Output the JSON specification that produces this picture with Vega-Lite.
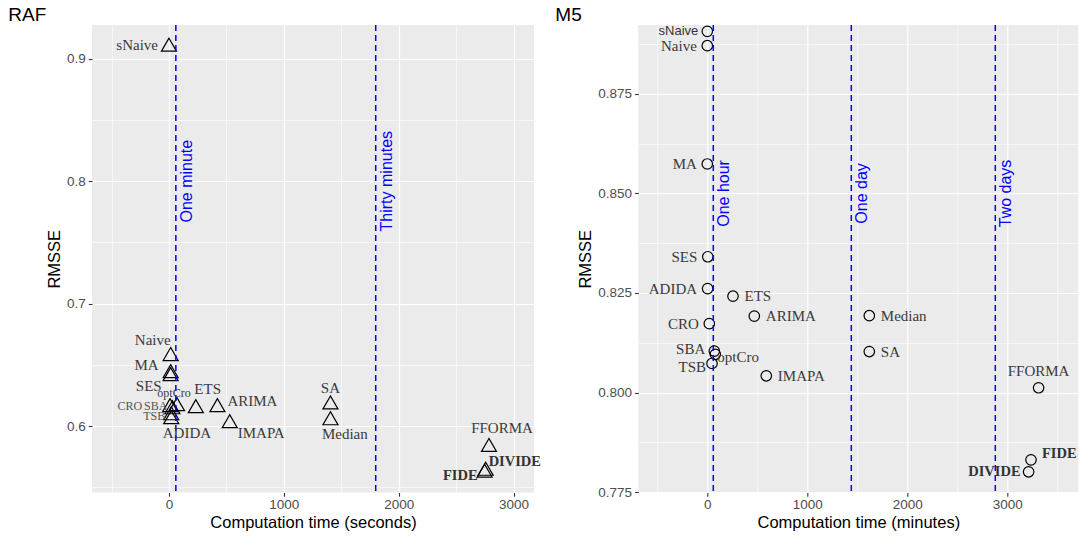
{
  "$schema": "https://vega.github.io/schema/vega-lite/v6.json",
  "padding": {"left": 8, "top": 5, "right": 0, "bottom": 0},
  "autosize": {"type": "pad"},
  "bounds": "flush",
  "spacing": 104.3,
  "datasets": {
    "raf": [
      {"name": "sNaive", "time": 0, "rmsse": 0.9115},
      {"name": "Naive", "time": 15, "rmsse": 0.6589},
      {"name": "MA", "time": 15, "rmsse": 0.645},
      {"name": "SES", "time": 15, "rmsse": 0.6425},
      {"name": "CRO", "time": 10, "rmsse": 0.6172},
      {"name": "SBA", "time": 30, "rmsse": 0.6155},
      {"name": "optCro", "time": 70, "rmsse": 0.618},
      {"name": "TSB", "time": 20, "rmsse": 0.6106},
      {"name": "ADIDA", "time": 20, "rmsse": 0.6074},
      {"name": "ETS", "time": 234, "rmsse": 0.6164},
      {"name": "ARIMA", "time": 422, "rmsse": 0.6172},
      {"name": "IMAPA", "time": 529, "rmsse": 0.6041},
      {"name": "SA", "time": 1406, "rmsse": 0.6194},
      {"name": "Median", "time": 1406, "rmsse": 0.6065},
      {"name": "FFORMA", "time": 2786, "rmsse": 0.5847},
      {"name": "DIVIDE", "time": 2757, "rmsse": 0.5653},
      {"name": "FIDE", "time": 2748, "rmsse": 0.5637}
    ],
    "m5": [
      {"name": "sNaive", "time": 0, "rmsse": 0.8907},
      {"name": "Naive", "time": 0, "rmsse": 0.8871},
      {"name": "MA", "time": 0, "rmsse": 0.8574},
      {"name": "SES", "time": 5, "rmsse": 0.8341},
      {"name": "ADIDA", "time": 3, "rmsse": 0.8261},
      {"name": "ETS", "time": 257, "rmsse": 0.8242},
      {"name": "ARIMA", "time": 470, "rmsse": 0.8192},
      {"name": "CRO", "time": 20, "rmsse": 0.8173},
      {"name": "SBA", "time": 70, "rmsse": 0.8104},
      {"name": "optCro", "time": 80, "rmsse": 0.8096},
      {"name": "TSB", "time": 47, "rmsse": 0.8073},
      {"name": "IMAPA", "time": 590, "rmsse": 0.8042},
      {"name": "Median", "time": 1620, "rmsse": 0.8193},
      {"name": "SA", "time": 1620, "rmsse": 0.8103},
      {"name": "FFORMA", "time": 3313, "rmsse": 0.8012},
      {"name": "FIDE", "time": 3237, "rmsse": 0.7831},
      {"name": "DIVIDE", "time": 3213, "rmsse": 0.7801}
    ],
    "rafLines": [
      {"time": 60, "label": "One minute"},
      {"time": 1800, "label": "Thirty minutes"}
    ],
    "m5Lines": [
      {"time": 60, "label": "One hour"},
      {"time": 1440, "label": "One day"},
      {"time": 2880, "label": "Two days"}
    ]
  },
  "hconcat": [
    {
      "width": 442,
      "height": 467.5,
      "title": {"text": "RAF", "anchor": "start", "frame": "group", "dx": -83.7, "offset": -1},
      "layer": [
        {
          "data": {"name": "raf"},
          "mark": {"type": "point", "shape": "triangle-up", "filled": false, "color": "black", "size": 225, "strokeWidth": 1.2, "opacity": 1},
          "encoding": {
            "x": {
              "field": "time", "type": "quantitative",
              "scale": {"domain": [-670, 3178], "nice": false, "zero": false},
              "axis": {
                "title": "Computation time (seconds)",
                "values": [-500, 0, 500, 1000, 1500, 2000, 2500, 3000],
                "format": "d",
                "labelExpr": "datum.value % 1000 == 0 ? datum.label : ''",
                "gridWidth": {"condition": {"test": "datum.value % 1000 == 0", "value": 1.2}, "value": 0.6},
                "tickOpacity": {"condition": {"test": "datum.value % 1000 == 0", "value": 1}, "value": 0}
              }
            },
            "y": {
              "field": "rmsse", "type": "quantitative",
              "scale": {"domain": [0.5459, 0.9275], "nice": false, "zero": false},
              "axis": {
                "title": "RMSSE",
                "values": [0.55, 0.6, 0.65, 0.7, 0.75, 0.8, 0.85, 0.9],
                "format": ".1f",
                "labelExpr": "round(datum.value*100) % 10 == 0 ? datum.label : ''",
                "gridWidth": {"condition": {"test": "round(datum.value*100) % 10 == 0", "value": 1.2}, "value": 0.6},
                "tickOpacity": {"condition": {"test": "round(datum.value*100) % 10 == 0", "value": 1}, "value": 0}
              }
            }
          }
        },
        {
          "data": {"name": "rafLines"},
          "mark": {"type": "rule", "color": "#0000FF", "strokeDash": [6, 4], "strokeWidth": 1.5},
          "encoding": {"x": {"field": "time", "type": "quantitative"}}
        },
        {
          "data": {"name": "rafLines"},
          "mark": {"type": "text", "angle": 270, "align": "center", "baseline": "top", "dy": 3, "color": "#0000FF", "font": "Liberation Sans", "fontSize": 16},
          "encoding": {
            "x": {"field": "time", "type": "quantitative"},
            "y": {"datum": 0.8, "type": "quantitative"},
            "text": {"field": "label"}
          }
        },
        {"data": {"name": "raf"}, "transform": [{"filter": {"field": "name", "oneOf": ["sNaive"]}}], "mark": {"type": "text", "align": "right", "dx": -11, "dy": 0}, "encoding": {"x": {"field": "time", "type": "quantitative"}, "y": {"field": "rmsse", "type": "quantitative"}, "text": {"field": "name"}}},
        {"data": {"name": "raf"}, "transform": [{"filter": {"field": "name", "oneOf": ["Naive"]}}], "mark": {"type": "text", "align": "right", "dx": 0, "dy": -14}, "encoding": {"x": {"field": "time", "type": "quantitative"}, "y": {"field": "rmsse", "type": "quantitative"}, "text": {"field": "name"}}},
        {"data": {"name": "raf"}, "transform": [{"filter": {"field": "name", "oneOf": ["MA"]}}], "mark": {"type": "text", "align": "right", "dx": -12, "dy": -6}, "encoding": {"x": {"field": "time", "type": "quantitative"}, "y": {"field": "rmsse", "type": "quantitative"}, "text": {"field": "name"}}},
        {"data": {"name": "raf"}, "transform": [{"filter": {"field": "name", "oneOf": ["SES"]}}], "mark": {"type": "text", "align": "right", "dx": -9, "dy": 12}, "encoding": {"x": {"field": "time", "type": "quantitative"}, "y": {"field": "rmsse", "type": "quantitative"}, "text": {"field": "name"}}},
        {"data": {"name": "raf"}, "transform": [{"filter": {"field": "name", "oneOf": ["optCro"]}}], "mark": {"type": "text", "align": "center", "dx": -3, "dy": -11, "fontSize": 12}, "encoding": {"x": {"field": "time", "type": "quantitative"}, "y": {"field": "rmsse", "type": "quantitative"}, "text": {"field": "name"}}},
        {"data": {"name": "raf"}, "transform": [{"filter": {"field": "name", "oneOf": ["CRO"]}}], "mark": {"type": "text", "align": "right", "dx": -28, "dy": 1, "fontSize": 12, "color": "#555555"}, "encoding": {"x": {"field": "time", "type": "quantitative"}, "y": {"field": "rmsse", "type": "quantitative"}, "text": {"field": "name"}}},
        {"data": {"name": "raf"}, "transform": [{"filter": {"field": "name", "oneOf": ["SBA"]}}], "mark": {"type": "text", "align": "right", "dx": -5, "dy": -1, "fontSize": 12, "color": "#555555"}, "encoding": {"x": {"field": "time", "type": "quantitative"}, "y": {"field": "rmsse", "type": "quantitative"}, "text": {"field": "name"}}},
        {"data": {"name": "raf"}, "transform": [{"filter": {"field": "name", "oneOf": ["TSB"]}}], "mark": {"type": "text", "align": "right", "dx": -6, "dy": 3, "fontSize": 12, "color": "#555555"}, "encoding": {"x": {"field": "time", "type": "quantitative"}, "y": {"field": "rmsse", "type": "quantitative"}, "text": {"field": "name"}}},
        {"data": {"name": "raf"}, "transform": [{"filter": {"field": "name", "oneOf": ["ADIDA", "Median"]}}], "mark": {"type": "text", "align": "left", "dx": -8.5, "dy": 16}, "encoding": {"x": {"field": "time", "type": "quantitative"}, "y": {"field": "rmsse", "type": "quantitative"}, "text": {"field": "name"}}},
        {"data": {"name": "raf"}, "transform": [{"filter": {"field": "name", "oneOf": ["ETS"]}}], "mark": {"type": "text", "align": "left", "dx": -1.5, "dy": -17}, "encoding": {"x": {"field": "time", "type": "quantitative"}, "y": {"field": "rmsse", "type": "quantitative"}, "text": {"field": "name"}}},
        {"data": {"name": "raf"}, "transform": [{"filter": {"field": "name", "oneOf": ["ARIMA"]}}], "mark": {"type": "text", "align": "left", "dx": 10, "dy": -4}, "encoding": {"x": {"field": "time", "type": "quantitative"}, "y": {"field": "rmsse", "type": "quantitative"}, "text": {"field": "name"}}},
        {"data": {"name": "raf"}, "transform": [{"filter": {"field": "name", "oneOf": ["IMAPA"]}}], "mark": {"type": "text", "align": "left", "dx": 8, "dy": 12}, "encoding": {"x": {"field": "time", "type": "quantitative"}, "y": {"field": "rmsse", "type": "quantitative"}, "text": {"field": "name"}}},
        {"data": {"name": "raf"}, "transform": [{"filter": {"field": "name", "oneOf": ["SA"]}}], "mark": {"type": "text", "align": "center", "dx": 0, "dy": -14}, "encoding": {"x": {"field": "time", "type": "quantitative"}, "y": {"field": "rmsse", "type": "quantitative"}, "text": {"field": "name"}}},
        {"data": {"name": "raf"}, "transform": [{"filter": {"field": "name", "oneOf": ["FFORMA"]}}], "mark": {"type": "text", "align": "center", "dx": 13, "dy": -17}, "encoding": {"x": {"field": "time", "type": "quantitative"}, "y": {"field": "rmsse", "type": "quantitative"}, "text": {"field": "name"}}},
        {"data": {"name": "raf"}, "transform": [{"filter": {"field": "name", "oneOf": ["DIVIDE"]}}], "mark": {"type": "text", "align": "left", "dx": 3, "dy": -7, "fontWeight": "bold", "color": "#333333", "fontSize": 14.5}, "encoding": {"x": {"field": "time", "type": "quantitative"}, "y": {"field": "rmsse", "type": "quantitative"}, "text": {"field": "name"}}},
        {"data": {"name": "raf"}, "transform": [{"filter": {"field": "name", "oneOf": ["FIDE"]}}], "mark": {"type": "text", "align": "right", "dx": -7, "dy": 5, "fontWeight": "bold", "color": "#333333", "fontSize": 14.5}, "encoding": {"x": {"field": "time", "type": "quantitative"}, "y": {"field": "rmsse", "type": "quantitative"}, "text": {"field": "name"}}}
      ]
    },
    {
      "width": 440,
      "height": 467.5,
      "title": {"text": "M5", "anchor": "start", "frame": "group", "dx": -83, "offset": -1},
      "layer": [
        {
          "data": {"name": "m5"},
          "mark": {"type": "point", "shape": "circle", "filled": false, "color": "black", "size": 110, "strokeWidth": 1.2, "opacity": 1},
          "encoding": {
            "x": {
              "field": "time", "type": "quantitative",
              "scale": {"domain": [-690, 3710], "nice": false, "zero": false},
              "axis": {
                "title": "Computation time (minutes)",
                "values": [-500, 0, 500, 1000, 1500, 2000, 2500, 3000, 3500],
                "format": "d",
                "labelExpr": "datum.value % 1000 == 0 ? datum.label : ''",
                "gridWidth": {"condition": {"test": "datum.value % 1000 == 0", "value": 1.2}, "value": 0.6},
                "tickOpacity": {"condition": {"test": "datum.value % 1000 == 0", "value": 1}, "value": 0}
              }
            },
            "y": {
              "field": "rmsse", "type": "quantitative",
              "scale": {"domain": [0.7749, 0.8923], "nice": false, "zero": false},
              "axis": {
                "title": "RMSSE",
                "values": [0.775, 0.7875, 0.8, 0.8125, 0.825, 0.8375, 0.85, 0.8625, 0.875, 0.8875],
                "format": ".3f",
                "labelExpr": "round(datum.value*10000) % 250 == 0 ? datum.label : ''",
                "gridWidth": {"condition": {"test": "round(datum.value*10000) % 250 == 0", "value": 1.2}, "value": 0.6},
                "tickOpacity": {"condition": {"test": "round(datum.value*10000) % 250 == 0", "value": 1}, "value": 0}
              }
            }
          }
        },
        {
          "data": {"name": "m5Lines"},
          "mark": {"type": "rule", "color": "#0000FF", "strokeDash": [6, 4], "strokeWidth": 1.5},
          "encoding": {"x": {"field": "time", "type": "quantitative"}}
        },
        {
          "data": {"name": "m5Lines"},
          "mark": {"type": "text", "angle": 270, "align": "center", "baseline": "top", "dy": 3, "color": "#0000FF", "font": "Liberation Sans", "fontSize": 16},
          "encoding": {
            "x": {"field": "time", "type": "quantitative"},
            "y": {"datum": 0.85, "type": "quantitative"},
            "text": {"field": "label"}
          }
        },
        {"data": {"name": "m5"}, "transform": [{"filter": {"field": "name", "oneOf": ["sNaive"]}}], "mark": {"type": "text", "align": "right", "dx": -9, "dy": 0, "font": "Liberation Sans", "fontSize": 13, "color": "#333333"}, "encoding": {"x": {"field": "time", "type": "quantitative"}, "y": {"field": "rmsse", "type": "quantitative"}, "text": {"field": "name"}}},
        {"data": {"name": "m5"}, "transform": [{"filter": {"field": "name", "oneOf": ["Naive", "MA", "SES", "ADIDA", "CRO"]}}], "mark": {"type": "text", "align": "right", "dx": -10.5, "dy": 0}, "encoding": {"x": {"field": "time", "type": "quantitative"}, "y": {"field": "rmsse", "type": "quantitative"}, "text": {"field": "name"}}},
        {"data": {"name": "m5"}, "transform": [{"filter": {"field": "name", "oneOf": ["SBA"]}}], "mark": {"type": "text", "align": "right", "dx": -9, "dy": -2}, "encoding": {"x": {"field": "time", "type": "quantitative"}, "y": {"field": "rmsse", "type": "quantitative"}, "text": {"field": "name"}}},
        {"data": {"name": "m5"}, "transform": [{"filter": {"field": "name", "oneOf": ["TSB"]}}], "mark": {"type": "text", "align": "right", "dx": -6, "dy": 4}, "encoding": {"x": {"field": "time", "type": "quantitative"}, "y": {"field": "rmsse", "type": "quantitative"}, "text": {"field": "name"}}},
        {"data": {"name": "m5"}, "transform": [{"filter": {"field": "name", "oneOf": ["optCro"]}}], "mark": {"type": "text", "align": "left", "dx": 2, "dy": 3}, "encoding": {"x": {"field": "time", "type": "quantitative"}, "y": {"field": "rmsse", "type": "quantitative"}, "text": {"field": "name"}}},
        {"data": {"name": "m5"}, "transform": [{"filter": {"field": "name", "oneOf": ["ETS", "ARIMA", "IMAPA", "Median", "SA"]}}], "mark": {"type": "text", "align": "left", "dx": 11.5, "dy": 0}, "encoding": {"x": {"field": "time", "type": "quantitative"}, "y": {"field": "rmsse", "type": "quantitative"}, "text": {"field": "name"}}},
        {"data": {"name": "m5"}, "transform": [{"filter": {"field": "name", "oneOf": ["FFORMA"]}}], "mark": {"type": "text", "align": "center", "dx": 0, "dy": -17}, "encoding": {"x": {"field": "time", "type": "quantitative"}, "y": {"field": "rmsse", "type": "quantitative"}, "text": {"field": "name"}}},
        {"data": {"name": "m5"}, "transform": [{"filter": {"field": "name", "oneOf": ["FIDE"]}}], "mark": {"type": "text", "align": "left", "dx": 11, "dy": -6, "fontWeight": "bold", "color": "#333333", "fontSize": 14.5}, "encoding": {"x": {"field": "time", "type": "quantitative"}, "y": {"field": "rmsse", "type": "quantitative"}, "text": {"field": "name"}}},
        {"data": {"name": "m5"}, "transform": [{"filter": {"field": "name", "oneOf": ["DIVIDE"]}}], "mark": {"type": "text", "align": "right", "dx": -8, "dy": 0, "fontWeight": "bold", "color": "#333333", "fontSize": 14.5}, "encoding": {"x": {"field": "time", "type": "quantitative"}, "y": {"field": "rmsse", "type": "quantitative"}, "text": {"field": "name"}}}
      ]
    }
  ],
  "config": {
    "view": {"fill": "#EBEBEB", "stroke": null},
    "text": {"font": "Liberation Serif", "fontSize": 15, "color": "#3a3a3a", "baseline": "middle"},
    "title": {"font": "Liberation Sans", "fontSize": 19, "fontWeight": "normal", "color": "black"},
    "axis": {
      "domain": false,
      "grid": true,
      "gridColor": "#FFFFFF",
      "tickColor": "#333333",
      "tickSize": 3.7,
      "tickWidth": 1.1,
      "labelFont": "Liberation Sans",
      "labelFontSize": 13.5,
      "labelColor": "#4D4D4D",
      "labelPadding": 3,
      "labelOverlap": false,
      "labelFlush": false,
      "titleFont": "Liberation Sans",
      "titleFontSize": 16.5,
      "titleColor": "#000000",
      "titleFontWeight": "normal",
      "titlePadding": 4
    },
    "axisX": {"labelPadding": 1.5, "titlePadding": 3}
  }
}
